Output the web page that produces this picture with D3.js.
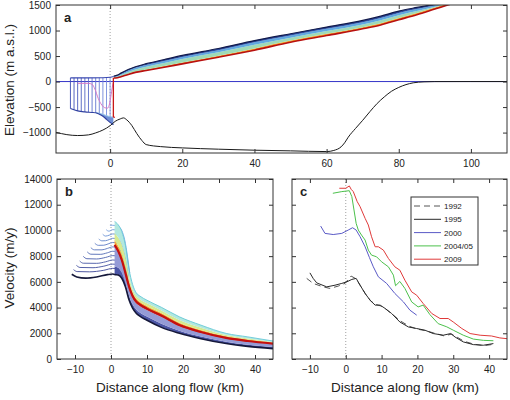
<!DOCTYPE html>
<html>
<head>
<meta charset="utf-8">
<script src="https://cdn.jsdelivr.net/npm/d3@7"></script>
<style>
  body { margin: 0; background: #fff; }
  svg text { font-family: "Liberation Sans", Arial, Helvetica, sans-serif; fill: #222; }
</style>
</head>
<body>
<svg id="chart" width="510" height="400"></svg>
<script>
// ---------- panel a: elevation profiles ----------
const aTicksX = [0, 20, 40, 60, 80, 100];
const aTicksY = [-1000, -500, 0, 500, 1000, 1500];

const aBedX = [-15,-12,-9,-6,-4,-2,0,1.4,2.8,3.7,4.6,6,7.4,8.8,10,14,20,30,40,50,60,62,64,65,66,68,70,72,74,76,78,80,82,84,87,90,100,110];
const aBedZ = [-995,-1040,-1058,-1045,-1006,-950,-865,-780,-732,-712,-750,-860,-1020,-1155,-1235,-1275,-1300,-1325,-1345,-1358,-1372,-1350,-1280,-1200,-1090,-920,-760,-590,-430,-300,-190,-115,-60,-25,-6,-1,0,0];

// grounded surfaces, from the oldest (dark) to the newest (red)
const aGridX      = [1,2,3,5,7,10,15,20,30,40,50,60,70,75,80,85,90,95,100];
const aSurfDark   = [105,125,165,235,290,350,432,512,648,802,937,1068,1198,1282,1380,1452,1518,1600,1680];
const aSurfBlue   = [98,112,148,215,268,325,405,482,615,768,902,1033,1163,1246,1345,1420,1492,1575,1660];
const aSurfCyan   = [90,98,128,188,235,290,365,440,573,720,860,990,1120,1200,1300,1380,1466,1560,1648];
const aSurfYellow = [78,82,105,155,198,238,305,375,508,650,803,935,1066,1143,1243,1341,1450,1557,1646];
const aSurfRed    = [70,75,95,140,180,216,280,347,477,615,771,902,1033,1110,1210,1310,1420,1530,1620];

// floating tongue
const aShelfTopX = [-11,-6,-2,0,1];
const aShelfTopZ = [72,72,75,84,100];
const aShelfBotX = [-11,-9,-7,-5,-4,-3,-2,-1,0,0.9];
const aShelfBotZ = [-530,-575,-595,-605,-612,-640,-680,-740,-800,-845];
const aFanX    = [-4,-3,-2,-1,0,0.9];
const aFanHigh = [-608,-622,-642,-668,-690,-700];
const aFanLow  = [-612,-640,-680,-740,-800,-845];
const aFrontX   = [-11,-10,-9,-8,-7,-6,-5,-4,-3,-2,-1,0];
const aFrontTop = [72,72,72,72,72,72,72,73,74,75,78,84];
const aFrontBot = [-530,-555,-575,-586,-595,-600,-605,-610,-622,-642,-668,-690];
const aRedFrontX = [0.9,0.9,1.3];
const aRedFrontZ = [70,-690,-705];
const aPinkX = [-9,-6,-5,-4.2,-3.3,-2.3,-1.4,-0.7,-0.1,0.4,0.8];
const aPinkZ = [-35,-35,-55,-150,-330,-460,-515,-520,-420,-200,-30];

// ---------- panel b: modelled velocity ----------
const bTicksX = [-10, 0, 10, 20, 30, 40];
const bTicksY = [0, 2000, 4000, 6000, 8000, 10000, 12000, 14000];

const bBlackLeftX = [-10.9,-9.5,-7,-4,-1,0.5,1];
const bBlackLeftV = [6590,6380,6290,6380,6560,6610,6570];

const bGridX      = [1,2,3,4,5,6,7,8,10,14,19,25,32,38,45];
const bBandBlack  = [6570,6530,6280,5620,4600,3950,3560,3330,3010,2460,2000,1580,1200,980,810];
const bBandBlueMid= [7200,7100,6700,5900,4900,4250,3850,3620,3300,2750,2200,1750,1340,1110,930];
const bBandBlueTop= [8700,8300,7550,6550,5450,4750,4330,4110,3800,3270,2550,2030,1580,1350,1150];
const bBandRed    = [8880,8400,7700,6700,5650,4900,4470,4250,3920,3380,2640,2100,1640,1400,1200];
const bBandYellow = [9250,8800,8150,7150,6000,5150,4700,4450,4120,3570,2820,2250,1760,1510,1270];
const bBandGreen  = [9800,9450,8900,7900,6400,5400,4900,4650,4330,3780,3040,2430,1870,1600,1330];
const bBandCyan   = [10700,10440,9910,8850,7000,5800,5150,4900,4570,4020,3280,2630,1990,1720,1400];

// profiles with a floating front further down-flow
const bLeftLines = [
  [[-10.4,6950],[-9.4,6800],[-6,6780],[-2,6900],[0.5,7050],[2,7000],[3,6650],[4.2,5700]],
  [[-9.6,7280],[-8.6,7120],[-5,7100],[-2,7220],[0.5,7380],[2,7330],[3,6950],[4.3,5800]],
  [[-8.7,7620],[-7.7,7450],[-4,7440],[-1.5,7560],[0.5,7700],[2,7650],[3,7250],[4.4,5900]],
  [[-7.7,7980],[-6.7,7800],[-4,7780],[-1.5,7900],[0.5,8040],[2,7990],[3,7550],[4.5,6000]],
  [[-6.6,8330],[-5.6,8150],[-3,8140],[-1,8260],[0.5,8380],[2,8330],[3,7850],[4.6,6100]],
  [[-5.6,8660],[-4.6,8490],[-2.5,8490],[-1,8600],[0.5,8720],[2,8660],[3.1,8150],[4.7,6200]],
  [[-4.5,9000],[-3.5,8840],[-2,8850],[-0.8,8950],[0.5,9060],[2,9000],[3.2,8450],[4.8,6300]],
  [[-3.4,9330],[-2.5,9190],[-1.5,9200],[-0.5,9290],[0.5,9390],[2,9330],[3.3,8700],[4.9,6400]],
  [[-2.3,9700],[-1.5,9560],[-0.5,9630],[0.5,9730],[2,9660],[3.4,9000],[5,6500]],
  [[-1.3,10050],[-0.6,9940],[0.5,10060],[2,9990],[3.5,9250],[5.1,6600]],
  [[-0.3,10400],[0.5,10400],[2,10320],[3.6,9500],[5.2,6700]]
];

// ---------- panel c: observed velocity ----------
const cYears = ["1992", "1995", "2000", "2004/05", "2009"];
const c1992X = [-10.9,-9.1,-6.3,-4.4,-2.1,-0.2,0.7,1.5,2.9,4.2,5.6,7,8.4,9.8,11.2,13,15.3,17.7,20,22.3,24.6,27.4,29.5,30.7,33,35.8,38.6,41];
const c1992V = [6270,5880,5610,5490,5670,5880,6190,6450,6230,5650,5020,4500,4250,4120,3880,3480,2950,2550,2320,2200,2020,1800,1930,1760,1380,1150,1040,1130];
const c1995X = [-10,-9.1,-8.1,-5.3,-3,-1.1,0.3,1.7,2.9,4,5.4,6.8,8.2,9.6,11,12.8,15.1,17.5,19.8,22.1,24.4,27.2,29.3,30.5,32.8,35.6,38.4,41.2];
const c1995V = [6700,6270,5920,5610,5740,5880,6000,6190,6270,5740,5100,4570,4190,4190,3930,3540,2880,2490,2370,2240,1980,1850,1980,1710,1330,1120,1070,1200];
const c2000X = [-7,-5.8,-3.5,-1.1,0.7,1.9,2.9,4,5.4,6.6,7.7,9.1,11.4,13.7,16.1,17.9,19.8];
const c2000V = [10340,9770,9680,9770,10030,10210,10030,9510,8730,7900,7170,6390,5880,5100,4440,3800,3410];
const c2004X = [-3.6,-1.1,1.0,1.7,2.3,2.9,3.5,4.4,5.4,6.3,7.2,8.6,10,11.9,13.3,13.9,15.1,16.5,18.4,20.2,21.6,23.5,25.8,28.2,30,32.8,35.6,38.4,41.2];
const c2004V = [12890,13020,13090,12630,11590,10550,10030,9640,9250,8470,8080,7950,7560,7170,6520,5700,6030,5490,4440,4050,4190,3450,2750,2500,2240,1850,1550,1450,1420];
const c2009X = [-1.8,0,1,1.5,2.1,3.2,4,5.4,6.3,7.2,8.2,9.1,10.5,11.9,13.7,15.1,16.5,18.4,19.8,21.6,24,26.3,28.6,30,32.4,34.7,37.5,40.7,43,45];
const c2009V = [13280,13280,13460,13200,13020,12240,11850,10940,10420,9510,8730,8730,8470,7820,7170,6910,6130,5220,4960,4320,3540,3150,3150,2880,2370,1980,1850,1790,1640,1580];

// ---------- drawing ----------
const svg = d3.select('#chart');
const zip = (xs, ys) => xs.map((v, i) => [v, ys[i]]);

function makePanel(name, box, xDom, yDom) {
  const x = d3.scaleLinear().domain(xDom).range([box.x0, box.x1]);
  const y = d3.scaleLinear().domain(yDom).range([box.y1, box.y0]);
  svg.append('clipPath').attr('id', 'clip-' + name)
    .append('rect')
    .attr('x', box.x0).attr('y', box.y0)
    .attr('width', box.x1 - box.x0).attr('height', box.y1 - box.y0);
  const plot = svg.append('g').attr('clip-path', 'url(#clip-' + name + ')');
  // dotted line at the grounding line
  plot.append('line')
    .attr('x1', x(0)).attr('x2', x(0))
    .attr('y1', box.y0).attr('y2', box.y1)
    .attr('stroke', '#888').attr('stroke-width', 0.8)
    .attr('stroke-dasharray', '1,2');
  return { x, y, plot, box };
}

function drawAxes(p, xTicks, yTicks, yLabels) {
  const b = p.box;
  const g = svg.append('g').attr('font-size', 10);
  const style = sel => {
    sel.select('.domain').remove();
    sel.selectAll('line').attr('stroke', '#333');
    sel.selectAll('text').attr('fill', '#222').attr('font-family', '"Liberation Sans", Arial, sans-serif');
  };
  g.append('g').attr('transform', `translate(0,${b.y1})`)
    .call(d3.axisBottom(p.x).tickValues(xTicks).tickSizeInner(-4).tickSizeOuter(0).tickPadding(7).tickFormat(d3.format('d')))
    .call(style);
  g.append('g').attr('transform', `translate(0,${b.y0})`)
    .call(d3.axisTop(p.x).tickValues(xTicks).tickSizeInner(-4).tickSizeOuter(0).tickFormat(''))
    .call(style);
  g.append('g').attr('transform', `translate(${b.x0},0)`)
    .call(d3.axisLeft(p.y).tickValues(yTicks).tickSizeInner(-4).tickSizeOuter(0).tickPadding(5)
      .tickFormat(yLabels ? d3.format('d') : ''))
    .call(style);
  g.append('g').attr('transform', `translate(${b.x1},0)`)
    .call(d3.axisRight(p.y).tickValues(yTicks).tickSizeInner(-4).tickSizeOuter(0).tickFormat(''))
    .call(style);
  g.append('rect')
    .attr('x', b.x0).attr('y', b.y0)
    .attr('width', b.x1 - b.x0).attr('height', b.y1 - b.y0)
    .attr('fill', 'none').attr('stroke', '#333').attr('stroke-width', 1);
}

function panelLetter(p, txt) {
  svg.append('text')
    .attr('x', p.box.x0 + 8).attr('y', p.box.y0 + 17)
    .attr('font-size', 13).attr('font-weight', 'bold')
    .text(txt);
}

// ---- panel a ----
const pa = makePanel('a', { x0: 56, x1: 507, y0: 5, y1: 153 }, [-15, 110], [-1400, 1500]);
const lineA = d3.line().x(d => pa.x(d[0])).y(d => pa.y(d[1]));
const smoothA = d3.line().x(d => pa.x(d[0])).y(d => pa.y(d[1])).curve(d3.curveMonotoneX);

// sea level
pa.plot.append('line')
  .attr('x1', pa.box.x0).attr('x2', pa.box.x1)
  .attr('y1', pa.y(0)).attr('y2', pa.y(0))
  .attr('stroke', '#3535c8').attr('stroke-width', 1);

// surface band, layered from the newest to the oldest profile
const aLayers = [
  { lo: aSurfRed, hi: aSurfYellow, fill: '#f4a128' },
  { lo: aSurfYellow, hi: aSurfCyan, fill: '#9fdab6' },
  { lo: aSurfCyan, hi: aSurfBlue, fill: '#5fa8e0' },
  { lo: aSurfBlue, hi: aSurfDark, fill: '#2b4a9e' }
];
aLayers.forEach(l => {
  pa.plot.append('path')
    .datum(aGridX.map((v, i) => [v, l.lo[i], l.hi[i]]))
    .attr('fill', l.fill)
    .attr('d', d3.area().x(d => pa.x(d[0])).y0(d => pa.y(d[1])).y1(d => pa.y(d[2])).curve(d3.curveMonotoneX));
});
pa.plot.append('path').datum(zip(aGridX, aSurfDark))
  .attr('fill', 'none').attr('stroke', '#121a4a').attr('stroke-width', 1.2).attr('d', smoothA);
pa.plot.append('path').datum(zip(aGridX, aSurfRed))
  .attr('fill', 'none').attr('stroke', '#b81010').attr('stroke-width', 1.6).attr('d', smoothA);

// floating tongue: fronts, top, bottom, fan of bottoms near the grounding line
const frontColor = d3.scaleLinear().domain([0, aFrontX.length - 1]).range(['#3c4cb4', '#7d93e0']);
aFrontX.forEach((fx, i) => {
  pa.plot.append('line')
    .attr('x1', pa.x(fx)).attr('x2', pa.x(fx))
    .attr('y1', pa.y(aFrontTop[i])).attr('y2', pa.y(aFrontBot[i]))
    .attr('stroke', frontColor(i)).attr('stroke-width', 0.9);
});
pa.plot.append('path')
  .datum(aFanX.map((v, i) => [v, aFanLow[i], aFanHigh[i]]))
  .attr('fill', '#6f8fd6')
  .attr('d', d3.area().x(d => pa.x(d[0])).y0(d => pa.y(d[1])).y1(d => pa.y(d[2])).curve(d3.curveMonotoneX));
pa.plot.append('path').datum(zip(aFanX, aFanHigh))
  .attr('fill', 'none').attr('stroke', '#8fc3e8').attr('stroke-width', 1).attr('d', smoothA);
pa.plot.append('path').datum(zip(aShelfBotX, aShelfBotZ))
  .attr('fill', 'none').attr('stroke', '#3040a0').attr('stroke-width', 1.1).attr('d', smoothA);
pa.plot.append('path').datum(zip(aShelfTopX, aShelfTopZ))
  .attr('fill', 'none').attr('stroke', '#3a48b0').attr('stroke-width', 1.1).attr('d', smoothA);
pa.plot.append('path').datum(zip(aPinkX, aPinkZ))
  .attr('fill', 'none').attr('stroke', '#d77ac8').attr('stroke-width', 1).attr('d', smoothA);
pa.plot.append('path').datum(zip(aRedFrontX, aRedFrontZ))
  .attr('fill', 'none').attr('stroke', '#c81818').attr('stroke-width', 1.3).attr('d', lineA);

// bed
pa.plot.append('path').datum(zip(aBedX, aBedZ))
  .attr('fill', 'none').attr('stroke', '#1a1a1a').attr('stroke-width', 1).attr('d', smoothA);

drawAxes(pa, aTicksX, aTicksY, true);
panelLetter(pa, 'a');

// ---- panel b ----
const pb = makePanel('b', { x0: 57, x1: 273, y0: 179, y1: 359 }, [-15, 45], [0, 14000]);
const smoothB = d3.line().x(d => pb.x(d[0])).y(d => pb.y(d[1])).curve(d3.curveMonotoneX);

const leftColor = d3.scaleLinear().domain([0, bLeftLines.length - 1]).range(['#3a4496', '#74a2e2']);
bLeftLines.forEach((l, i) => {
  pb.plot.append('path').datum(l)
    .attr('fill', 'none').attr('stroke', leftColor(i)).attr('stroke-width', 0.9).attr('d', smoothB);
});

const bLayers = [
  { lo: bBandBlack, hi: bBandBlueMid, fill: '#4c56a6' },
  { lo: bBandBlueMid, hi: bBandBlueTop, fill: '#959bd6' },
  { lo: bBandBlueTop, hi: bBandRed, fill: '#b83a50' },
  { lo: bBandRed, hi: bBandYellow, fill: '#f4ae3a' },
  { lo: bBandYellow, hi: bBandGreen, fill: '#d6ea90' },
  { lo: bBandGreen, hi: bBandCyan, fill: '#b2e8df' }
];
bLayers.forEach(l => {
  pb.plot.append('path')
    .datum(bGridX.map((v, i) => [v, l.lo[i], l.hi[i]]))
    .attr('fill', l.fill)
    .attr('d', d3.area().x(d => pb.x(d[0])).y0(d => pb.y(d[1])).y1(d => pb.y(d[2])).curve(d3.curveMonotoneX));
});
pb.plot.append('path').datum(zip(bGridX, bBandCyan))
  .attr('fill', 'none').attr('stroke', '#66c8d8').attr('stroke-width', 0.9).attr('d', smoothB);
pb.plot.append('path').datum(zip(bGridX, bBandRed))
  .attr('fill', 'none').attr('stroke', '#c41010').attr('stroke-width', 2.2).attr('d', smoothB);
pb.plot.append('path').datum(zip(bBlackLeftX, bBlackLeftV).concat(zip(bGridX, bBandBlack).slice(1)))
  .attr('fill', 'none').attr('stroke', '#15183a').attr('stroke-width', 1.6).attr('d', smoothB);

drawAxes(pb, bTicksX, bTicksY, true);
panelLetter(pb, 'b');

// ---- panel c ----
const pc = makePanel('c', { x0: 292, x1: 507, y0: 179, y1: 359 }, [-15, 45], [0, 14000]);
const lineC = d3.line().x(d => pc.x(d[0])).y(d => pc.y(d[1]));
const cSeries = [
  { name: cYears[0], pts: zip(c1992X, c1992V), color: '#555', dash: '6,4' },
  { name: cYears[1], pts: zip(c1995X, c1995V), color: '#2a2a2a', dash: null },
  { name: cYears[2], pts: zip(c2000X, c2000V), color: '#5a5ac6', dash: null },
  { name: cYears[3], pts: zip(c2004X, c2004V), color: '#4cc14c', dash: null },
  { name: cYears[4], pts: zip(c2009X, c2009V), color: '#e03a3a', dash: null }
];
cSeries.forEach(s => {
  pc.plot.append('path').datum(s.pts)
    .attr('fill', 'none').attr('stroke', s.color).attr('stroke-width', 1)
    .attr('stroke-dasharray', s.dash).attr('d', lineC);
});

drawAxes(pc, bTicksX, bTicksY, false);
panelLetter(pc, 'c');

// legend
const lg = svg.append('g').attr('transform', 'translate(411,197)');
lg.append('rect').attr('width', 67).attr('height', 68)
  .attr('fill', '#fff').attr('stroke', '#333').attr('stroke-width', 1);
cSeries.forEach((s, i) => {
  const yy = 9 + i * 13.3;
  lg.append('line').attr('x1', 3).attr('x2', 30).attr('y1', yy).attr('y2', yy)
    .attr('stroke', s.color).attr('stroke-width', 1).attr('stroke-dasharray', s.dash);
  lg.append('text').attr('x', 33).attr('y', yy + 3).attr('font-size', 8).text(s.name);
});

// axis titles
svg.append('text')
  .attr('transform', 'translate(14,80) rotate(-90)')
  .attr('text-anchor', 'middle').attr('font-size', 13.5)
  .text('Elevation (m a.s.l.)');
svg.append('text')
  .attr('transform', 'translate(14,268) rotate(-90)')
  .attr('text-anchor', 'middle').attr('font-size', 13.5)
  .text('Velocity (m/y)');
svg.append('text')
  .attr('x', 170).attr('y', 392)
  .attr('text-anchor', 'middle').attr('font-size', 13.5)
  .text('Distance along flow (km)');
svg.append('text')
  .attr('x', 405).attr('y', 392)
  .attr('text-anchor', 'middle').attr('font-size', 13.5)
  .text('Distance along flow (km)');
</script>
</body>
</html>
